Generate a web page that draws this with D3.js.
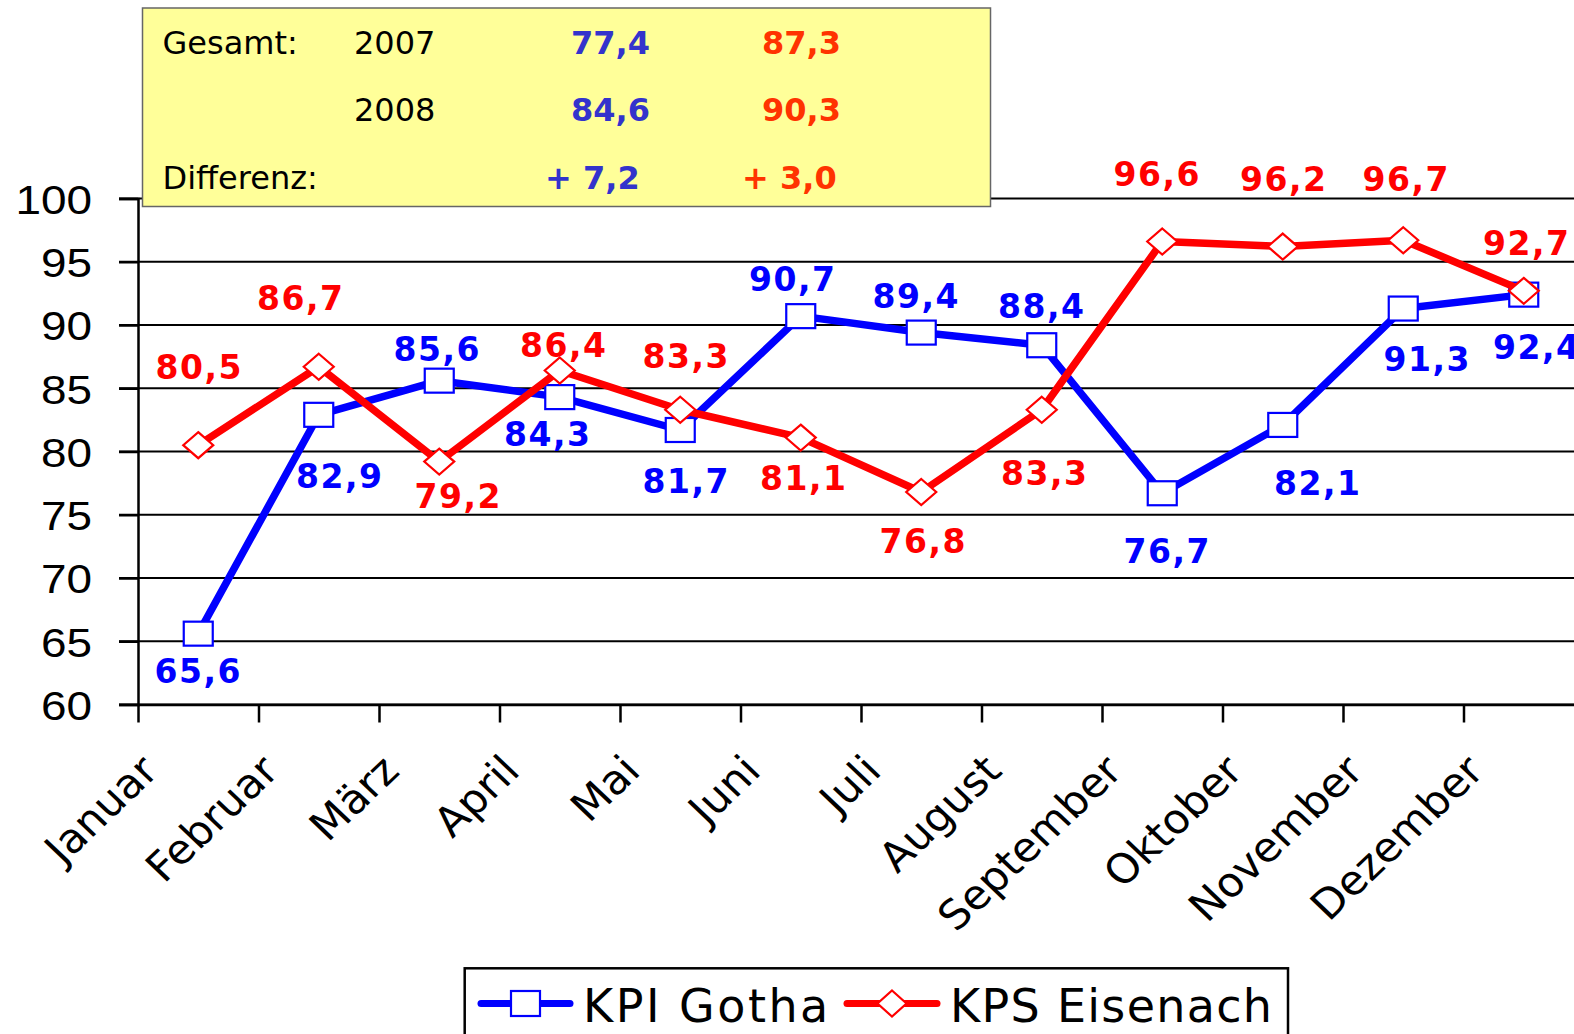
<!DOCTYPE html>
<meta charset="utf-8">
<style>
body { margin: 0; background: #fff; }
svg { display: block; font-family: "DejaVu Sans", Verdana, sans-serif; }
.grid line { stroke: #000; stroke-width: 2; }
.axis path, .axis line { stroke: #000; stroke-width: 2.5; }
.axis text { font-size: 41px; fill: #000; }
.lbl { font-size: 33px; font-weight: bold; text-anchor: middle; letter-spacing: 1.5px; }
.box text { font-size: 32px; }
</style>
<div id="chart"></div>
<script src="https://cdn.jsdelivr.net/npm/d3@7"></script>
<script>

// data
var months = ["Januar","Februar","März","April","Mai","Juni","Juli","August","September","Oktober","November","Dezember"];
var gotha    = [65.6, 82.9, 85.6, 84.3, 81.7, 90.7, 89.4, 88.4, 76.7, 82.1, 91.3, 92.4];
var eisenach = [80.5, 86.7, 79.2, 86.4, 83.3, 81.1, 76.8, 83.3, 96.6, 96.2, 96.7, 92.7];
var yTicks = [60, 65, 70, 75, 80, 85, 90, 95, 100];
var seriesNames = ["KPI Gotha", "KPS Eisenach"];

var summaryRowLabels = ["Gesamt:", "", "Differenz:"];
var summaryYears = ["2007", "2008", ""];
var gothaTotals = [77.4, 84.6];
var eisenachTotals = [87.3, 90.3];

// label nudges (px, relative to the point) as placed in the original
var gothaShift = [[0,37],[21,61],[-2,-32],[-12,37],[6,51],[-8,-37],[-5,-37],[0,-39],[5,58],[35,58],[24,50],[13,52]];
var eisenachShift = [[1,-78],[-18,-69],[19,34],[4,-26],[6,-54],[3,40],[2,49],[3,63],[-5,-68],[1,-68],[3,-61],[3,-48]];

var W = 1574, H = 1034;
var plotLeft = 138, plotTop = 198.5, plotBottom = 704.5, step = 120.5;
var plotRight = plotLeft + step * months.length;
var stretch = 1.12; // the original picture is a bit wider than tall

var svg = d3.select("#chart").append("svg").attr("width", W).attr("height", H);

var x = d3.scaleBand().domain(months).range([plotLeft, plotRight]);
var xEdge = d3.scaleLinear().domain([0, months.length]).range([plotLeft, plotRight]);
var y = d3.scaleLinear().domain([60, 100]).range([plotBottom, plotTop]);
var cx = function(i) { return x(months[i]) + x.bandwidth() / 2; };

var fmt = function(v) { return d3.format(".1f")(v).replace(".", ","); };

// gridlines
svg.append("g").attr("class", "grid")
  .selectAll("line").data(yTicks).enter().append("line")
    .attr("x1", plotLeft - 19).attr("x2", plotRight)
    .attr("y1", function(d) { return y(d); }).attr("y2", function(d) { return y(d); });

// axes
svg.append("g").attr("class", "axis")
    .attr("transform", "translate(" + plotLeft + ",0)")
    .call(d3.axisLeft(y).tickValues(yTicks).tickSize(19).tickPadding(27).tickFormat(d3.format("d")))
  .selectAll("text")
    .attr("dy", "0.36em")
    .attr("x", -46 / stretch)
    .attr("transform", "scale(" + stretch + ",1)");

svg.append("g").attr("class", "axis")
    .attr("transform", "translate(0," + plotBottom + ")")
    .call(d3.axisBottom(xEdge).tickValues(d3.range(months.length + 1)).tickSize(18).tickSizeOuter(0).tickFormat(""));

svg.append("g").selectAll("text").data(months).enter().append("text")
    .attr("transform", function(d, i) {
      return "translate(" + (cx(i) - 38) + "," + 773 + ") scale(1.05,1) rotate(-45)";
    })
    .attr("text-anchor", "end")
    .style("font-size", "41px")
    .text(function(d) { return d; });

// series
var line = d3.line().x(function(d, i) { return cx(i); }).y(function(d) { return y(d); });

function drawSeries(vals, color, shape) {
  svg.append("path").datum(vals)
    .attr("d", line).attr("fill", "none")
    .attr("stroke", color).attr("stroke-width", 7.5).attr("stroke-linejoin", "round");
  var g = svg.append("g");
  vals.forEach(function(v, i) {
    var px = cx(i), py = y(v);
    if (shape == "square") {
      g.append("rect").attr("x", px - 14.5).attr("y", py - 12).attr("width", 29).attr("height", 24)
        .attr("fill", "#fff").attr("stroke", color).attr("stroke-width", 2.2);
    } else {
      g.append("path").attr("d", "M" + px + "," + (py - 13) + "L" + (px + 15) + "," + py + "L" + px + "," + (py + 13) + "L" + (px - 15) + "," + py + "Z")
        .attr("fill", "#fff").attr("stroke", color).attr("stroke-width", 2.2);
    }
  });
}
drawSeries(gotha, "#0000ff", "square");
drawSeries(eisenach, "#ff0000", "diamond");

function drawLabels(vals, shift, color) {
  svg.append("g").selectAll("text").data(vals).enter().append("text")
    .attr("class", "lbl").attr("fill", color)
    .attr("x", function(d, i) { return cx(i) + shift[i][0]; })
    .attr("y", function(d, i) { return y(d) + shift[i][1] + 12; })
    .text(fmt);
}
drawLabels(gotha, gothaShift, "#0000ff");
drawLabels(eisenach, eisenachShift, "#ff0000");

// summary box
var box = svg.append("g").attr("class", "box");
box.append("rect").attr("x", 142.5).attr("y", 8).attr("width", 848).attr("height", 198.5)
  .attr("fill", "#ffff99").attr("stroke", "#666").attr("stroke-width", 1.5);

var rowY = [54, 120.5, 188.5];
var gothaCol = [gothaTotals[0], gothaTotals[1], gothaTotals[1] - gothaTotals[0]];
var eisenachCol = [eisenachTotals[0], eisenachTotals[1], eisenachTotals[1] - eisenachTotals[0]];
rowY.forEach(function(ry, r) {
  box.append("text").attr("x", 162.5).attr("y", ry).attr("fill", "#000").text(summaryRowLabels[r]);
  box.append("text").attr("x", 354).attr("y", ry).attr("fill", "#000").text(summaryYears[r]);
  var diff = r == 2;
  box.append("text").attr("x", diff ? 545 : 571).attr("y", ry)
    .attr("fill", "#3333cc").style("font-weight", "bold")
    .text((diff ? "+ " : "") + fmt(gothaCol[r]));
  box.append("text").attr("x", diff ? 742 : 762).attr("y", ry)
    .attr("fill", "#ff3300").style("font-weight", "bold")
    .text((diff ? "+ " : "") + fmt(eisenachCol[r]));
});

// legend
var leg = svg.append("g");
leg.append("rect").attr("x", 464.7).attr("y", 968.3).attr("width", 823.3).attr("height", 100)
  .attr("fill", "#fff").attr("stroke", "#000").attr("stroke-width", 2.5);
var legItems = [
  {name: seriesNames[0], color: "#0000ff", shape: "square", x0: 481, x1: 570, tx: 583, ls: 2.5},
  {name: seriesNames[1], color: "#ff0000", shape: "diamond", x0: 847, x1: 937, tx: 950, ls: 1.3}
];
legItems.forEach(function(it) {
  var ly = 1003.5, mx = (it.x0 + it.x1) / 2;
  leg.append("line").attr("x1", it.x0).attr("x2", it.x1).attr("y1", ly).attr("y2", ly)
    .attr("stroke", it.color).attr("stroke-width", 7).attr("stroke-linecap", "round");
  if (it.shape == "square") {
    leg.append("rect").attr("x", mx - 14.5).attr("y", ly - 12.5).attr("width", 29).attr("height", 25)
      .attr("fill", "#fff").attr("stroke", it.color).attr("stroke-width", 2.2);
  } else {
    leg.append("path").attr("d", "M" + mx + "," + (ly - 13) + "L" + (mx + 14.5) + "," + ly + "L" + mx + "," + (ly + 13) + "L" + (mx - 14.5) + "," + ly + "Z")
      .attr("fill", "#fff").attr("stroke", it.color).attr("stroke-width", 2.2);
  }
  leg.append("text").attr("x", it.tx).attr("y", 1021.5)
    .style("font-size", "46px").style("letter-spacing", it.ls + "px").attr("fill", "#000").text(it.name);
});

</script>
